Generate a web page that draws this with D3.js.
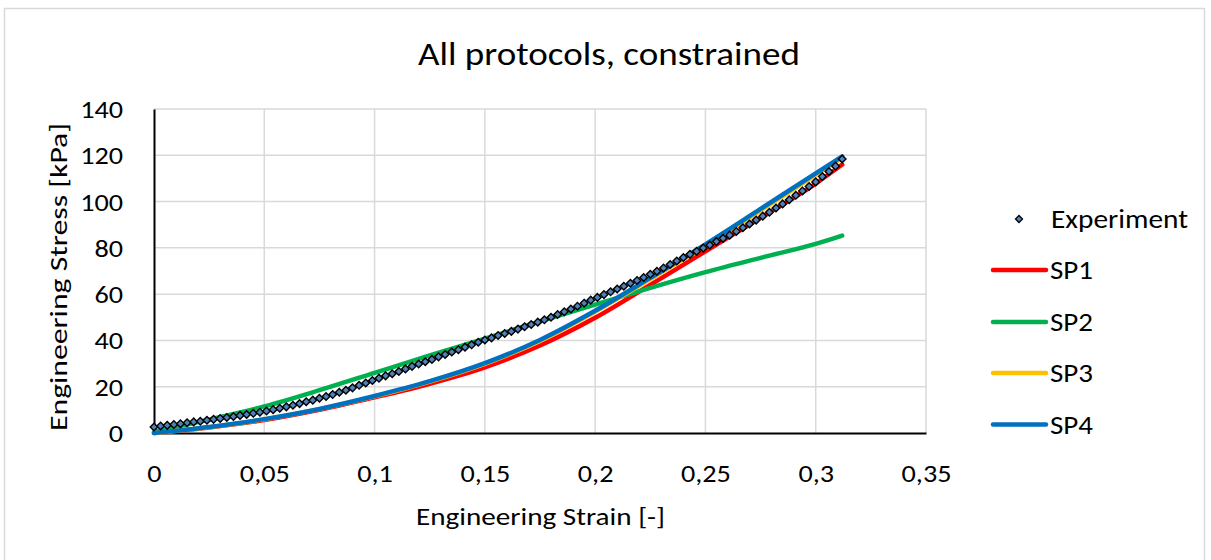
<!DOCTYPE html>
<html>
<head>
<meta charset="utf-8">
<script src="https://cdn.jsdelivr.net/npm/d3@7"></script>
<style>
  html, body { margin: 0; padding: 0; background: #fff; }
  svg { display: block; font-family: Carlito, Lato, "Open Sans", sans-serif; }
  text { font-weight: 300; }
</style>
</head>
<body>
<svg id="chart" width="1211" height="560"></svg>
<script>
// ---------- data ----------
const chartTitle = "All protocols, constrained";
const xTitle = "Engineering Strain [-]";
const yTitle = "Engineering Stress [kPa]";
const xTicks = [0, 0.05, 0.1, 0.15, 0.2, 0.25, 0.3, 0.35];
const xTickLabels = ["0", "0,05", "0,1", "0,15", "0,2", "0,25", "0,3", "0,35"];
const yTicks = [0, 20, 40, 60, 80, 100, 120, 140];
const yTickLabels = ["0", "20", "40", "60", "80", "100", "120", "140"];
const seriesNames = ["Experiment", "SP1", "SP2", "SP3", "SP4"];

const expStrain = [0, 0.003, 0.006, 0.009, 0.012, 0.015, 0.018, 0.021, 0.024, 0.027,
  0.030, 0.033, 0.036, 0.039, 0.042, 0.045, 0.048, 0.051, 0.054, 0.057,
  0.060, 0.063, 0.066, 0.069, 0.072, 0.075, 0.078, 0.081, 0.084, 0.087,
  0.090, 0.093, 0.096, 0.099, 0.102, 0.105, 0.108, 0.111, 0.114, 0.117,
  0.120, 0.123, 0.126, 0.129, 0.132, 0.135, 0.138, 0.141, 0.144, 0.147,
  0.150, 0.153, 0.156, 0.159, 0.162, 0.165, 0.168, 0.171, 0.174, 0.177,
  0.180, 0.183, 0.186, 0.189, 0.192, 0.195, 0.198, 0.201, 0.204, 0.207,
  0.210, 0.213, 0.216, 0.219, 0.222, 0.225, 0.228, 0.231, 0.234, 0.237,
  0.240, 0.243, 0.246, 0.249, 0.252, 0.255, 0.258, 0.261, 0.264, 0.267,
  0.270, 0.273, 0.276, 0.279, 0.282, 0.285, 0.288, 0.291, 0.294, 0.297,
  0.300, 0.303, 0.306, 0.309, 0.312];
const expStress = [2.6, 3.0, 3.3, 3.7, 4.0, 4.4, 4.8, 5.1, 5.5, 5.9,
  6.3, 6.7, 7.1, 7.6, 8.0, 8.5, 9.0, 9.5, 10.1, 10.7,
  11.3, 12.0, 12.7, 13.5, 14.2, 15.0, 15.8, 16.6, 17.6, 18.5,
  19.5, 20.6, 21.6, 22.7, 23.7, 24.7, 25.6, 26.6, 27.7, 28.8,
  29.8, 30.8, 31.8, 32.9, 33.9, 35.0, 36.0, 37.1, 38.1, 39.2,
  40.2, 41.1, 42.1, 43.0, 43.9, 44.9, 45.9, 46.9, 47.9, 48.9,
  50.0, 51.2, 52.4, 53.6, 54.8, 56.1, 57.4, 58.6, 59.8, 61.0,
  62.2, 63.4, 64.7, 65.9, 67.2, 68.6, 69.9, 71.3, 72.8, 74.3,
  75.8, 77.2, 78.5, 79.9, 81.2, 82.7, 84.1, 85.5, 87.1, 88.7,
  90.3, 92.0, 93.7, 95.4, 97.2, 99.0, 100.8, 102.7, 104.6, 106.5,
  108.5, 110.8, 113.0, 115.3, 118.4];

const modelStrain = [0, 0.025, 0.05, 0.075, 0.1, 0.125, 0.15, 0.175, 0.2, 0.225, 0.25, 0.275, 0.3, 0.312];
const sp1 = [0, 2.4, 5.6, 10.0, 15.4, 21.3, 28.4, 37.8, 49.8, 64.0, 78.5, 93.0, 107.8, 116.0];
const sp2 = [0.5, 5.8, 11.5, 18.5, 26.0, 33.5, 40.8, 48.2, 55.5, 62.7, 69.5, 75.7, 81.7, 85.3];
const sp3 = [0, 2.5, 5.9, 10.3, 15.8, 22.2, 29.9, 39.8, 52.4, 66.5, 80.9, 96.1, 111.5, 118.9];
const sp4 = [0, 2.6, 6.0, 10.4, 16.0, 22.4, 30.2, 40.2, 52.8, 67.0, 81.5, 96.8, 112.2, 119.5];
const seriesColors = ["#4f81bd", "#ff0000", "#00b050", "#ffc000", "#0070c0"];

// ---------- layout ----------
const FONT = "Carlito, Lato, 'Open Sans', sans-serif";
const svg = d3.select("#chart");
const plot = { left: 154, right: 926, top: 109, bottom: 433 };
const x = d3.scaleLinear().domain([0, 0.35]).range([plot.left, plot.right]);
const y = d3.scaleLinear().domain([0, 140]).range([plot.bottom, plot.top]);

// widen glyphs horizontally (reference font is drawn wider than Lato)
function stretch(sel, factor) {
  sel.each(function () {
    const w = this.getComputedTextLength();
    d3.select(this).attr("textLength", w * factor).attr("lengthAdjust", "spacingAndGlyphs");
  });
}
function fitTo(sel, width) {
  sel.attr("textLength", width).attr("lengthAdjust", "spacingAndGlyphs");
}

// outer border
svg.append("rect").attr("x", 4.5).attr("y", 8.5).attr("width", 1200).attr("height", 560)
  .attr("fill", "#fff").attr("stroke", "#d9d9d9").attr("stroke-width", 1.5);

// title
svg.append("text").attr("x", 609).attr("y", 65).attr("text-anchor", "middle")
  .attr("font-size", 32).attr("fill", "#000").text(chartTitle).call(fitTo, 382);

// gridlines
const grid = svg.append("g");
grid.selectAll("line.h").data(yTicks.slice(1)).join("line")
  .attr("x1", plot.left).attr("x2", plot.right)
  .attr("y1", d => y(d)).attr("y2", d => y(d))
  .attr("stroke", "#d9d9d9").attr("stroke-width", 1.5);
grid.selectAll("line.v").data(xTicks.slice(1)).join("line")
  .attr("y1", plot.top).attr("y2", plot.bottom)
  .attr("x1", d => x(d)).attr("x2", d => x(d))
  .attr("stroke", "#d9d9d9").attr("stroke-width", 1.5);

// axes
const xAxis = d3.axisBottom(x).tickValues(xTicks).tickFormat((d, i) => xTickLabels[i]).tickSize(0);
const yAxis = d3.axisLeft(y).tickValues(yTicks).tickFormat((d, i) => yTickLabels[i]).tickSize(0);
const gx = svg.append("g").attr("transform", `translate(0,${plot.bottom})`).call(xAxis);
const gy = svg.append("g").attr("transform", `translate(${plot.left},0)`).call(yAxis);
[gx, gy].forEach(g => {
  g.select(".domain").attr("stroke", "#000").attr("stroke-width", 2);
  g.selectAll("text").attr("font-size", 23.5).attr("fill", "#000").attr("font-family", FONT);
});
gx.selectAll(".tick text").attr("y", 49).attr("dy", null);
gy.selectAll(".tick text").attr("x", -31).attr("dy", "0.36em");
gx.selectAll(".tick text").call(stretch, 1.2);
gy.selectAll(".tick text").call(stretch, 1.2);

// axis titles
svg.append("text").attr("x", 540.5).attr("y", 525).attr("text-anchor", "middle")
  .attr("font-size", 25.5).attr("fill", "#000").text(xTitle).call(fitTo, 249);
svg.append("text").attr("transform", `translate(66.5,277) rotate(-90)`)
  .attr("text-anchor", "middle").attr("font-size", 25.5).attr("fill", "#000").text(yTitle).call(fitTo, 308);

// model lines
const line = d3.line().x(d => x(d[0])).y(d => y(d[1])).curve(d3.curveMonotoneX);
const models = [sp1, sp2, sp3, sp4];
const lines = svg.append("g");
models.forEach((vals, i) => {
  const pts = modelStrain.map((s, j) => [s, vals[j]]);
  lines.append("path").datum(pts).attr("d", line)
    .attr("fill", "none").attr("stroke", seriesColors[i + 1])
    .attr("stroke-width", 4.5).attr("stroke-linecap", "round").attr("stroke-linejoin", "round");
});

// experiment markers
const diamond = (cx, cy, r) => `M${cx},${cy - r}L${cx + r},${cy}L${cx},${cy + r}L${cx - r},${cy}Z`;
svg.append("g").selectAll("path").data(expStrain.map((s, i) => [s, expStress[i]])).join("path")
  .attr("d", d => diamond(x(d[0]), y(d[1]), 3.8))
  .attr("fill", seriesColors[0]).attr("stroke", "#000").attr("stroke-width", 1.4);

// legend
const legY = [219, 270, 322, 373, 424.5];
const leg = svg.append("g");
leg.append("path").attr("d", diamond(1019, legY[0], 3.5))
  .attr("fill", seriesColors[0]).attr("stroke", "#000").attr("stroke-width", 1.3);
seriesNames.forEach((name, i) => {
  if (i > 0) {
    leg.append("line").attr("x1", 993).attr("x2", 1046).attr("y1", legY[i]).attr("y2", legY[i])
      .attr("stroke", seriesColors[i]).attr("stroke-width", 4.5).attr("stroke-linecap", "round");
  }
  leg.append("text").attr("x", i === 0 ? 1051 : 1050).attr("y", legY[i] + 9)
    .attr("font-size", 26).attr("fill", "#000").text(name)
    .call(fitTo, i === 0 ? 137 : 43);
});
</script>
</body>
</html>
